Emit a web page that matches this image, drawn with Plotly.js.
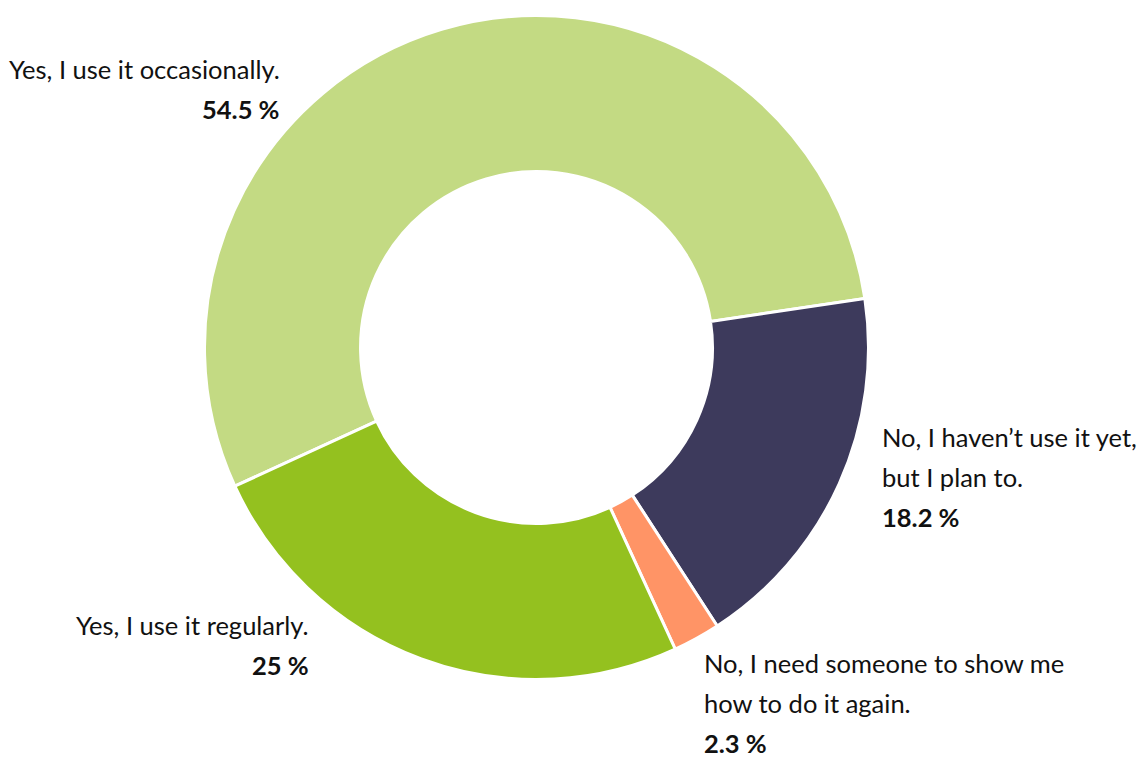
<!DOCTYPE html>
<html>
<head>
<meta charset="utf-8">
<script src="https://cdn.plot.ly/plotly-3.0.1.min.js"></script>
<style>html,body{margin:0;padding:0;background:#fff;}#chart{width:1139px;height:758px;}</style>
</head>
<body>
<div id="chart"></div>
<script>
// Data
const labels = [
  "Yes, I use it occasionally.",
  "No, I haven\u2019t use it yet,<br>but I plan to.",
  "No, I need someone to show me<br>how to do it again.",
  "Yes, I use it regularly."
];
const values = [54.5, 18.2, 2.3, 25];
const valueLabels = ["54.5 %", "18.2 %", "2.3 %", "25 %"];
const colors = ["#c3da83", "#3d3a5c", "#ff9466", "#94c11f"];

// Layout constants (pixels)
const W = 1139, H = 758;
const cx = 536.5, cy = 347.5, R = 332;
const labelPos = [
  {x: 282, y: 69, side: "right"},
  {x: 880, y: 437, side: "left"},
  {x: 702, y: 663, side: "left"},
  {x: 311, y: 625, side: "right"}
];
const lineGap = 40;
const fontFam = "Lato, 'Noto Sans', sans-serif";
const fontSize = 25.5;

const annotations = [];
labels.forEach((lab, i) => {
  const lines = lab.split("<br>");
  lines.push("<b>" + valueLabels[i] + "</b>");
  const p = labelPos[i];
  lines.forEach((ln, j) => {
    annotations.push({
      xref: "paper", yref: "paper",
      x: p.x / W, y: 1 - (p.y + j * lineGap) / H,
      xanchor: p.side, yanchor: "middle",
      align: p.side,
      text: ln, showarrow: false,
      font: {family: fontFam, size: fontSize, color: "#111111"}
    });
  });
});

const trace = {
  type: "pie",
  labels: labels,
  values: values,
  sort: false,
  direction: "clockwise",
  rotation: 245.3,
  hole: 0.53,
  textinfo: "none",
  hoverinfo: "label+percent",
  marker: {colors: colors, line: {color: "#ffffff", width: 3}},
  domain: {
    x: [(cx - R) / W, (cx + R) / W],
    y: [1 - (cy + R) / H, 1 - (cy - R) / H]
  },
  showlegend: false
};

Plotly.newPlot("chart", [trace], {
  width: W, height: H,
  margin: {l: 0, r: 0, t: 0, b: 0},
  paper_bgcolor: "#ffffff",
  plot_bgcolor: "#ffffff",
  showlegend: false,
  annotations: annotations
}, {displayModeBar: false, staticPlot: true});
</script>
</body>
</html>
